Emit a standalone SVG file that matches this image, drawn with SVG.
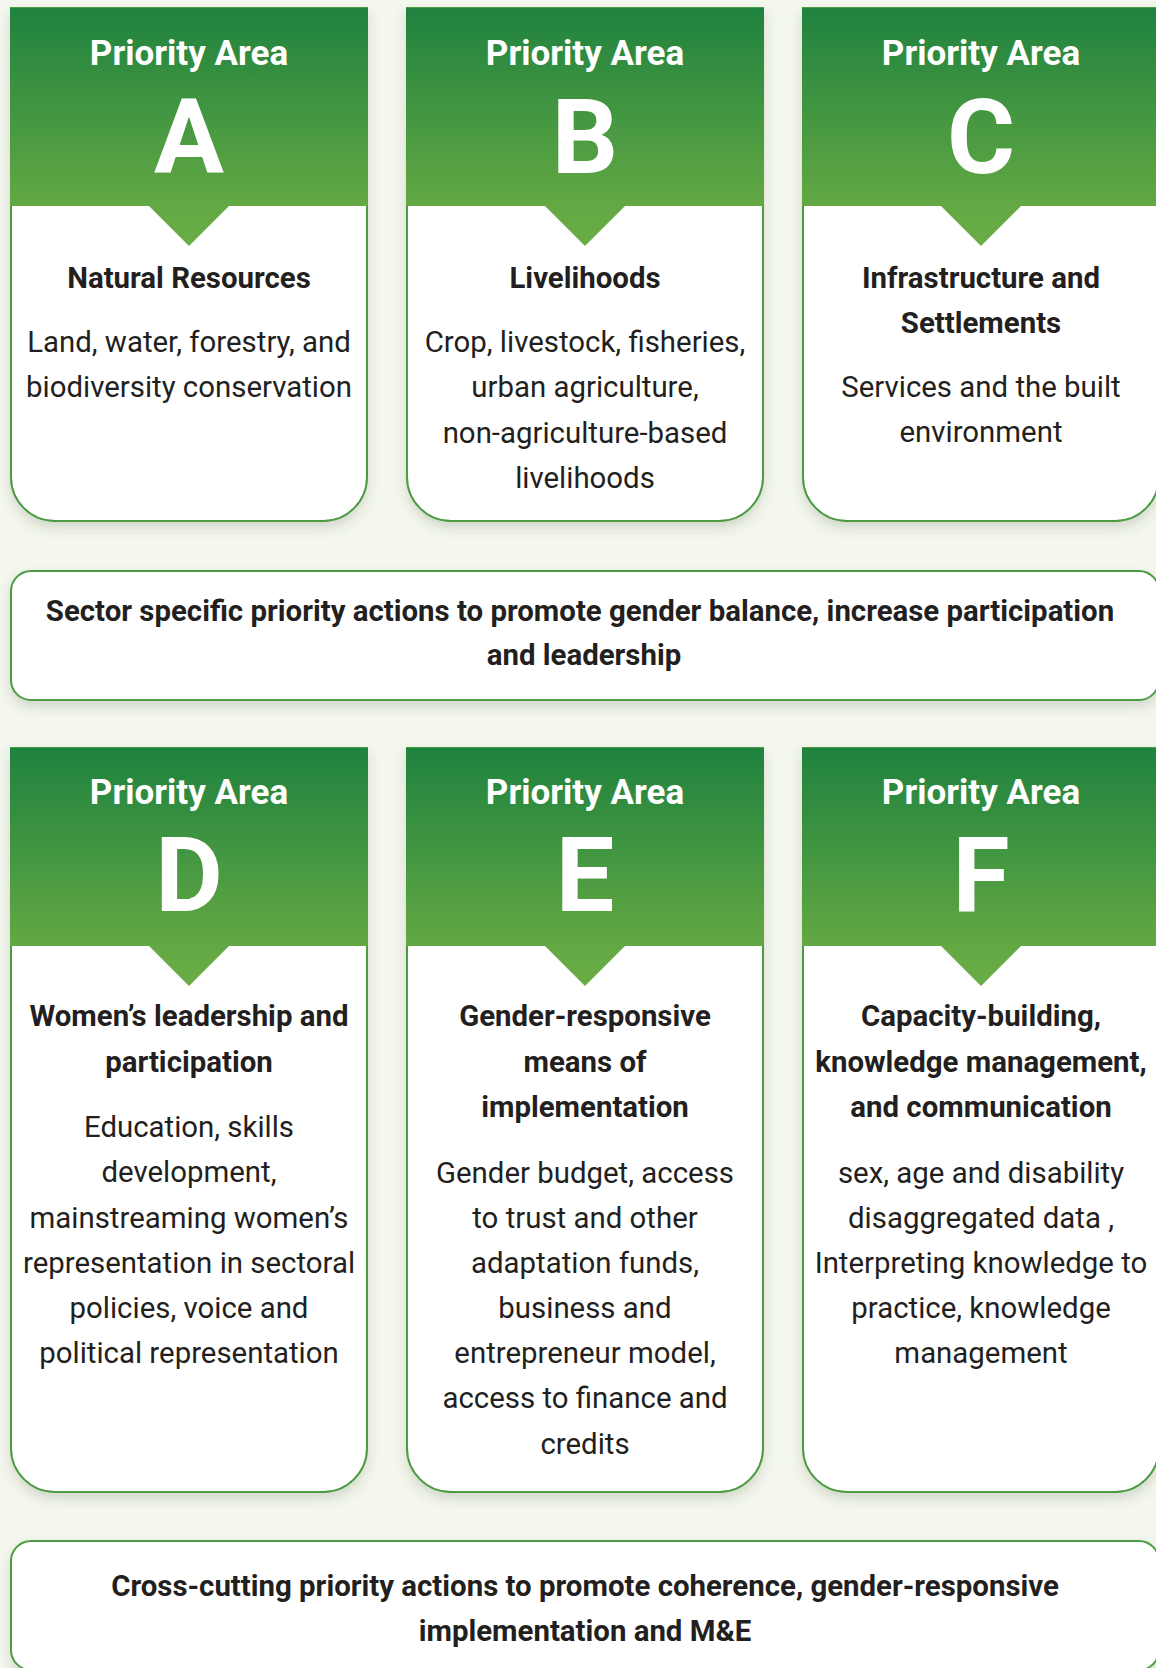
<svg xmlns="http://www.w3.org/2000/svg" width="1156" height="1668" viewBox="0 0 1156 1668">
<style>
.bg{fill:#f4f7ee}
.card{fill:#fff;stroke:#4c9b42;stroke-width:2}
.hdr{fill:url(#hg)}
.pa{font-family:Roboto,"Liberation Sans",sans-serif;font-weight:700;font-size:35px;fill:#fff;text-anchor:middle}
.lt{font-family:Roboto,"Liberation Sans",sans-serif;font-weight:700;font-size:104px;fill:#fff;text-anchor:middle}
.ti{font-family:Roboto,"Liberation Sans",sans-serif;font-weight:700;font-size:29.4px;fill:#231f20;text-anchor:middle}
.bd{font-family:Roboto,"Liberation Sans",sans-serif;font-weight:400;font-size:29.4px;fill:#231f20;text-anchor:middle}
.bn{font-family:Roboto,"Liberation Sans",sans-serif;font-weight:700;font-size:29.4px;fill:#231f20;text-anchor:middle}
</style>
<defs>
<linearGradient id="hg" x1="0" y1="0" x2="0" y2="1">
<stop offset="0" stop-color="#1f823f"/>
<stop offset="0.83" stop-color="#63a843"/>
<stop offset="1" stop-color="#6aad46"/>
</linearGradient>
<filter id="sh" x="-10%" y="-10%" width="120%" height="125%">
<feDropShadow dx="0" dy="6" stdDeviation="6" flood-color="#3a4a30" flood-opacity="0.18"/>
</filter>
</defs>
<rect class="bg" x="0" y="0" width="1156" height="1668"/>

<g id="card-a">
<path class="card" filter="url(#sh)" d="M11,8 H367 V477 A44,44 0 0 1 323,521 H55 A44,44 0 0 1 11,477 Z"/>
<path class="hdr" d="M10,8 H368 V206 H229 L189,246 L149,206 H10 Z"/>
<text class="pa" x="189" y="65">Priority Area</text>
<text class="lt" x="189" y="173">A</text>
<text class="ti" x="189" y="288">Natural Resources</text>
<text class="bd" x="189" y="352">Land, water, forestry, and</text>
<text class="bd" x="189" y="397">biodiversity conservation</text>
</g>

<g id="card-b">
<path class="card" filter="url(#sh)" d="M407,8 H763 V477 A44,44 0 0 1 719,521 H451 A44,44 0 0 1 407,477 Z"/>
<path class="hdr" d="M406,8 H764 V206 H625 L585,246 L545,206 H406 Z"/>
<text class="pa" x="585" y="65">Priority Area</text>
<text class="lt" x="585" y="173">B</text>
<text class="ti" x="585" y="288">Livelihoods</text>
<text class="bd" x="585" y="352">Crop, livestock, fisheries,</text>
<text class="bd" x="585" y="397">urban agriculture,</text>
<text class="bd" x="585" y="443">non-agriculture-based</text>
<text class="bd" x="585" y="488">livelihoods</text>
</g>

<g id="card-c">
<path class="card" filter="url(#sh)" d="M803,8 H1159 V477 A44,44 0 0 1 1115,521 H847 A44,44 0 0 1 803,477 Z"/>
<path class="hdr" d="M802,8 H1160 V206 H1021 L981,246 L941,206 H802 Z"/>
<text class="pa" x="981" y="65">Priority Area</text>
<text class="lt" x="981" y="173">C</text>
<text class="ti" x="981" y="288">Infrastructure and</text>
<text class="ti" x="981" y="333">Settlements</text>
<text class="bd" x="981" y="397">Services and the built</text>
<text class="bd" x="981" y="442">environment</text>
</g>

<g id="banner-sector">
<rect class="card" filter="url(#sh)" x="11" y="571" width="1148" height="129" rx="20"/>
<text class="bn" x="580" y="621">Sector specific priority actions to promote gender balance, increase participation</text>
<text class="bn" x="584" y="665">and leadership</text>
</g>

<g id="card-d">
<path class="card" filter="url(#sh)" d="M11,748 H367 V1448 A44,44 0 0 1 323,1492 H55 A44,44 0 0 1 11,1448 Z"/>
<path class="hdr" d="M10,748 H368 V946 H229 L189,986 L149,946 H10 Z"/>
<text class="pa" x="189" y="804">Priority Area</text>
<text class="lt" x="189" y="911">D</text>
<text class="ti" x="189" y="1026">Women’s leadership and</text>
<text class="ti" x="189" y="1072">participation</text>
<text class="bd" x="189" y="1137">Education, skills</text>
<text class="bd" x="189" y="1182">development,</text>
<text class="bd" x="189" y="1228">mainstreaming women’s</text>
<text class="bd" x="189" y="1273">representation in sectoral</text>
<text class="bd" x="189" y="1318">policies, voice and</text>
<text class="bd" x="189" y="1363">political representation</text>
</g>

<g id="card-e">
<path class="card" filter="url(#sh)" d="M407,748 H763 V1448 A44,44 0 0 1 719,1492 H451 A44,44 0 0 1 407,1448 Z"/>
<path class="hdr" d="M406,748 H764 V946 H625 L585,986 L545,946 H406 Z"/>
<text class="pa" x="585" y="804">Priority Area</text>
<text class="lt" x="585" y="911">E</text>
<text class="ti" x="585" y="1026">Gender-responsive</text>
<text class="ti" x="585" y="1072">means of</text>
<text class="ti" x="585" y="1117">implementation</text>
<text class="bd" x="585" y="1183">Gender budget, access</text>
<text class="bd" x="585" y="1228">to trust and other</text>
<text class="bd" x="585" y="1273">adaptation funds,</text>
<text class="bd" x="585" y="1318">business and</text>
<text class="bd" x="585" y="1363">entrepreneur model,</text>
<text class="bd" x="585" y="1408">access to finance and</text>
<text class="bd" x="585" y="1454">credits</text>
</g>

<g id="card-f">
<path class="card" filter="url(#sh)" d="M803,748 H1159 V1448 A44,44 0 0 1 1115,1492 H847 A44,44 0 0 1 803,1448 Z"/>
<path class="hdr" d="M802,748 H1160 V946 H1021 L981,986 L941,946 H802 Z"/>
<text class="pa" x="981" y="804">Priority Area</text>
<text class="lt" x="981" y="911">F</text>
<text class="ti" x="981" y="1026">Capacity-building,</text>
<text class="ti" x="981" y="1072">knowledge management,</text>
<text class="ti" x="981" y="1117">and communication</text>
<text class="bd" x="981" y="1183">sex, age and disability</text>
<text class="bd" x="981" y="1228">disaggregated data ,</text>
<text class="bd" x="981" y="1273">Interpreting knowledge to</text>
<text class="bd" x="981" y="1318">practice, knowledge</text>
<text class="bd" x="981" y="1363">management</text>
</g>

<g id="banner-cross">
<rect class="card" filter="url(#sh)" x="11" y="1541" width="1148" height="129" rx="20"/>
<text class="bn" x="585" y="1596">Cross-cutting priority actions to promote coherence, gender-responsive</text>
<text class="bn" x="585" y="1641">implementation and M&amp;E</text>
</g>

<g id="connectors"/>
</svg>
